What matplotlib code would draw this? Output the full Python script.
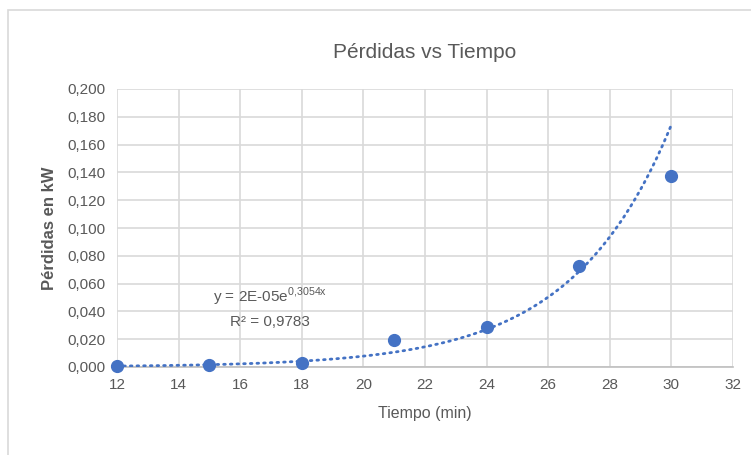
import matplotlib.pyplot as plt
import numpy as np
from matplotlib.patches import Rectangle

tiempo = [12, 15, 18, 21, 24, 27, 30]
perdidas = [0.0007, 0.0014, 0.0028, 0.0195, 0.029, 0.073, 0.1375]
y_ticks = [0.0, 0.02, 0.04, 0.06, 0.08, 0.10, 0.12, 0.14, 0.16, 0.18, 0.20]
x_ticks = [12, 14, 16, 18, 20, 22, 24, 26, 28, 30, 32]

azul = "#4472C4"
gris = "#595959"

plt.rcParams['font.family'] = ['Liberation Sans', 'DejaVu Sans']
plt.rcParams['mathtext.fontset'] = 'custom'
plt.rcParams['mathtext.rm'] = 'Liberation Sans'

fig = plt.figure(figsize=(7.51, 4.55), dpi=100)
fig.patches.append(Rectangle((8 / 751, -0.05), 1.2, 1 - 10 / 455 + 0.05, transform=fig.transFigure,
                             fill=False, edgecolor="#d9d9d9", linewidth=1.2))
ax = fig.add_axes([117 / 751, 1 - 367 / 455, 616 / 751, 278 / 455])

# tendencia exponencial (ajuste en log)
b, a = np.polyfit(tiempo, np.log(perdidas), 1)
xs = np.linspace(min(tiempo), max(tiempo), 200)
ax.plot(xs, np.exp(a) * np.exp(b * xs), color=azul, linewidth=2,
        linestyle=(0, (0.6, 1.8)), dash_capstyle="round", zorder=3)
ax.plot(tiempo, perdidas, "o", color=azul, markersize=8.5, zorder=4, clip_on=False)

ax.set_xlim(12, 32)
ax.set_ylim(0, 0.2)
ax.set_xticks(x_ticks)
ax.set_yticks(y_ticks)
ax.set_yticklabels([("%.3f" % v).replace(".", ",") for v in y_ticks])
ax.grid(True, color="#d9d9d9", linewidth=1.2)
ax.set_axisbelow(True)
for s in ["top", "right", "left"]:
    ax.spines[s].set_visible(False)
ax.spines["bottom"].set_color("#bfbfbf")
ax.spines["bottom"].set_linewidth(1.2)
ax.tick_params(length=0, labelsize=11, colors=gris, pad=8)

ax.set_title("Pérdidas vs Tiempo", fontsize=15, color=gris, pad=22)
ax.set_xlabel("Tiempo (min)", fontsize=11.5, color=gris, labelpad=10)
ax.set_ylabel("Pérdidas en kW", fontsize=12, color=gris, fontweight="bold", labelpad=8)

ax.text(16.97, 0.0504, r"y = 2E-05e$^{\mathrm{0{,}3054x}}$", ha="center", va="center", fontsize=11, color=gris)
ax.text(16.97, 0.0324, "R² = 0,9783", ha="center", va="center", fontsize=11, color=gris)

plt.savefig("out.png", dpi=100)
